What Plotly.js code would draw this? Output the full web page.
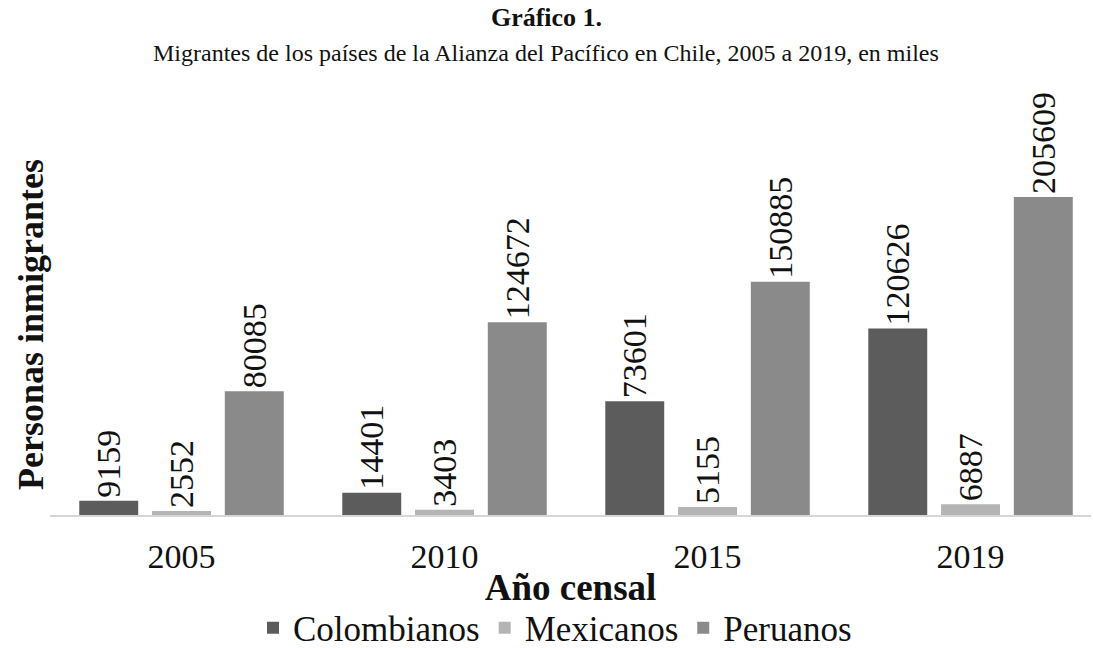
<!DOCTYPE html>
<html>
<head>
<meta charset="utf-8">
<script src="https://cdn.plot.ly/plotly-3.0.1.min.js"></script>
<style>html,body{margin:0;padding:0;background:#fff;}#chart{width:1093px;height:648px;}</style>
</head>
<body>
<div id="chart"></div>
<script>
const years = ['2005', '2010', '2015', '2019'];
const colombianos = [9159, 14401, 73601, 120626];
const mexicanos = [2552, 3403, 5155, 6887];
const peruanos = [80085, 124672, 150885, 205609];
const seriesNames = ['Colombianos', 'Mexicanos', 'Peruanos'];
const seriesColors = ['#5c5c5c', '#b4b4b4', '#8a8a8a'];
const seriesValues = [colombianos, mexicanos, peruanos];

const serif = 'Liberation Serif';

const traces = seriesValues.map((vals, i) => ({
  type: 'bar',
  name: seriesNames[i],
  x: years,
  y: vals,
  marker: {color: seriesColors[i]},
  text: vals.map(String),
  textposition: 'outside',
  textangle: -90,
  constraintext: 'none',
  cliponaxis: false,
  textfont: {family: serif, size: 34, color: '#111111'},
  outsidetextfont: {family: serif, size: 34, color: '#111111'},
  hoverinfo: 'x+y+name'
}));

const layout = {
  width: 1093,
  height: 648,
  margin: {l: 50, r: 2, t: 90, b: 133, autoexpand: false},
  paper_bgcolor: '#ffffff',
  plot_bgcolor: '#ffffff',
  barmode: 'group',
  bargap: 0.17,
  bargroupgap: 0.19,
  font: {family: serif, color: '#111111'},
  title: {
    text: '<b>Gráfico 1.</b>',
    font: {family: serif, size: 26, color: '#111111'},
    x: 0.5, xanchor: 'center',
    y: 1 - 17 / 648, yanchor: 'middle'
  },
  annotations: [{
    text: 'Migrantes de los países de la Alianza del Pacífico en Chile, 2005 a 2019, en miles',
    xref: 'paper', yref: 'paper',
    x: (546 - 50) / 1041, y: (515 - 53) / 425,
    xanchor: 'center', yanchor: 'middle',
    showarrow: false,
    font: {family: serif, size: 24, color: '#111111'}
  }, {
    text: '<b>Personas inmigrantes</b>',
    xref: 'paper', yref: 'paper',
    x: (31 - 50) / 1041, y: (515 - 325) / 425,
    xanchor: 'center', yanchor: 'middle',
    textangle: -90,
    showarrow: false,
    font: {family: serif, size: 36, color: '#111111'}
  }],
  xaxis: {
    type: 'category',
    range: [-0.5, 3.458],
    automargin: false,
    showline: true,
    linecolor: '#d6d6d6',
    linewidth: 2,
    ticks: '',
    ticklabelstandoff: 10,
    tickfont: {family: serif, size: 34, color: '#111111'},
    showgrid: false,
    zeroline: false,
    title: {
      text: '<b>Año censal</b>',
      font: {family: serif, size: 37, color: '#111111'},
      standoff: 0
    }
  },
  yaxis: {
    range: [0, 274800],
    automargin: false,
    showticklabels: false,
    ticks: '',
    showgrid: false,
    zeroline: false,
    showline: false
  },
  legend: {
    orientation: 'h',
    x: (555 - 50) / 1041, xanchor: 'center',
    y: (515 - 628) / 425, yanchor: 'middle',
    font: {family: serif, size: 35, color: '#111111'},
    itemwidth: 30,
    traceorder: 'normal'
  },
  showlegend: true
};

Plotly.newPlot('chart', traces, layout, {displayModeBar: false, staticPlot: true});
</script>
</body>
</html>
